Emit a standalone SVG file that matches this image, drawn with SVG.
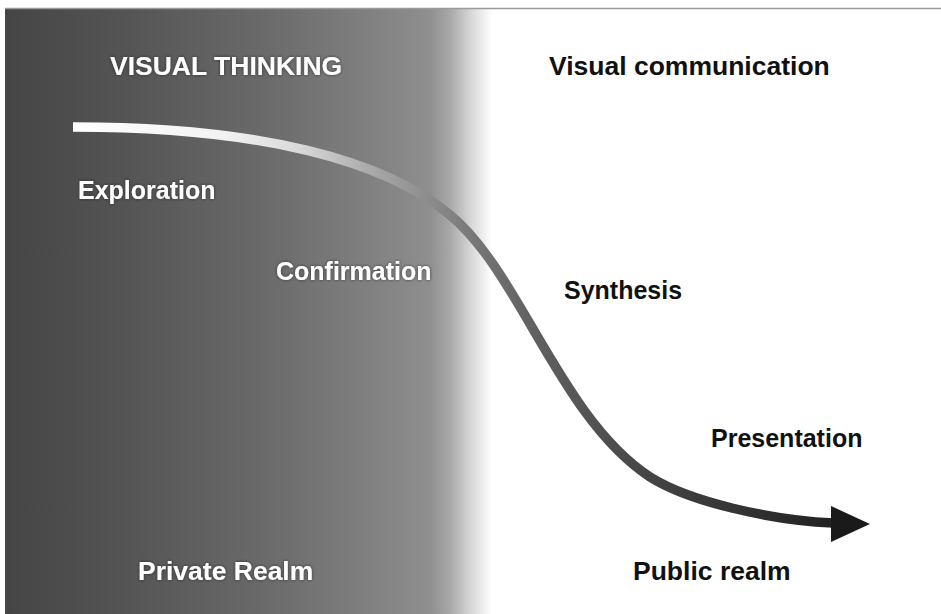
<svg xmlns="http://www.w3.org/2000/svg" width="941" height="614" viewBox="0 0 941 614">
  <style>
    .t { font-family: "Liberation Sans", Arial, sans-serif; font-weight: bold; font-size: 25px; }
    .h { font-size: 26.5px; }
    .light { fill: #ffffff; filter: url(#halo); }
    .dark { fill: #111111; }
  </style>
  <defs>
    <linearGradient id="bg" gradientUnits="userSpaceOnUse" x1="5" y1="0" x2="492" y2="0">
      <stop offset="0" stop-color="#454545"/>
      <stop offset="0.257" stop-color="#555555"/>
      <stop offset="0.544" stop-color="#6b6b6b"/>
      <stop offset="0.811" stop-color="#878787"/>
      <stop offset="0.873" stop-color="#8f8f8f"/>
      <stop offset="0.914" stop-color="#a8a8a8"/>
      <stop offset="0.955" stop-color="#d5d5d5"/>
      <stop offset="1" stop-color="#ffffff"/>
    </linearGradient>
    <linearGradient id="curveGrad" gradientUnits="userSpaceOnUse" x1="73" y1="0" x2="833" y2="0">
      <stop offset="0" stop-color="#ffffff"/>
      <stop offset="0.2" stop-color="#f2f2f2"/>
      <stop offset="0.3" stop-color="#d8d8d8"/>
      <stop offset="0.39" stop-color="#aaaaaa"/>
      <stop offset="0.48" stop-color="#888888"/>
      <stop offset="0.55" stop-color="#707070"/>
      <stop offset="0.61" stop-color="#606060"/>
      <stop offset="0.67" stop-color="#555555"/>
      <stop offset="0.76" stop-color="#444444"/>
      <stop offset="1" stop-color="#222222"/>
    </linearGradient>
    <filter id="halo" x="-10%" y="-30%" width="120%" height="160%">
      <feGaussianBlur in="SourceAlpha" stdDeviation="1.5" result="b"/>
      <feFlood flood-color="#222222" flood-opacity="0.8"/>
      <feComposite in2="b" operator="in" result="s"/>
      <feMerge>
        <feMergeNode in="s"/>
        <feMergeNode in="SourceGraphic"/>
      </feMerge>
    </filter>
  </defs>

  <g id="background">
    <rect x="0" y="0" width="941" height="614" fill="#ffffff"/>
    <rect x="5" y="8" width="488" height="606" fill="url(#bg)"/>
    <line x1="5" y1="8.5" x2="941" y2="8.5" stroke="#9a9a9a" stroke-width="1.5"/>
  </g>

  <g id="connectors">
    <path id="process-curve" d="M73,127 C260,127 385,160 450,215 C520,272 560,418 650,477 C690,502 770,520 833,523" fill="none" stroke="url(#curveGrad)" stroke-width="9.5"/>
    <polygon id="arrowhead" points="831,506 870,524 831,542" fill="#1a1a1a"/>
  </g>

  <g id="visual-thinking"><text class="t h light" x="110" y="75">VISUAL THINKING</text></g>
  <g id="visual-communication"><text class="t h dark" x="549" y="75">Visual communication</text></g>
  <g id="exploration"><text class="t light" x="78" y="199" font-size="24.6">Exploration</text></g>
  <g id="confirmation"><text class="t light" x="276" y="280">Confirmation</text></g>
  <g id="synthesis"><text class="t dark" x="564" y="299" font-size="24.4">Synthesis</text></g>
  <g id="presentation"><text class="t dark" x="711" y="447">Presentation</text></g>
  <g id="private-realm"><text class="t h light" x="138" y="580">Private Realm</text></g>
  <g id="public-realm"><text class="t h dark" x="633" y="580">Public realm</text></g>
</svg>
